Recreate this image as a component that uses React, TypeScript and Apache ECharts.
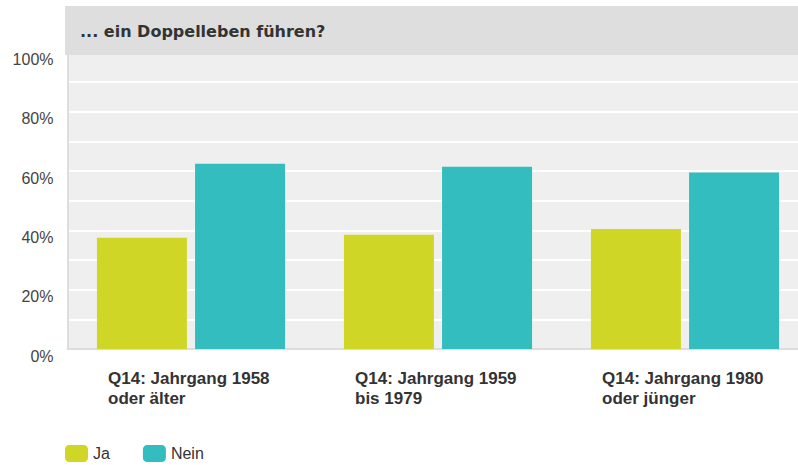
import React, { useEffect, useRef } from "react";
import * as echarts from "echarts";

const categories = [
  "Q14: Jahrgang 1958\noder älter",
  "Q14: Jahrgang 1959\nbis 1979",
  "Q14: Jahrgang 1980\noder jünger",
];
const jaValues = [37.5, 38.5, 40.5];
const neinValues = [62.5, 61.5, 59.5];
const seriesNames = ["Ja", "Nein"];
const titleText = "... ein Doppelleben führen?";

export default function App() {
  const ref = useRef<HTMLDivElement>(null);
  useEffect(() => {
    if (!ref.current) return;
    const chart = echarts.init(ref.current, undefined, { renderer: "svg" });
    const font = "'Liberation Sans', Arial, sans-serif";
    chart.setOption({
      animation: false,
      backgroundColor: "#ffffff",
      textStyle: { fontFamily: font },
      grid: {
        left: 67.5,
        width: 741,
        top: 52.5,
        bottom: 116,
        show: true,
        backgroundColor: "#efefef",
        borderWidth: 0,
        containLabel: false,
        outerBoundsMode: "none",
      },
      legend: {
        left: 60,
        top: 440,
        itemWidth: 23,
        itemHeight: 17,
        itemGap: 33,
        icon: "roundRect",
        textStyle: { fontSize: 16, color: "#333", fontFamily: font },
        data: seriesNames,
      },
      xAxis: {
        type: "category",
        data: categories,
        axisLine: { show: true, lineStyle: { color: "#dddddd", width: 2 } },
        axisTick: { show: false },
        splitLine: { show: false },
        axisLabel: {
          margin: 19,
          interval: 0,
          formatter: (v: string) =>
            v
              .split("\n")
              .map((l) => "{a|" + l + "}")
              .join("\n"),
          rich: {
            a: {
              width: 166,
              align: "left",
              fontSize: 17,
              fontWeight: "bold",
              lineHeight: 20,
              color: "#333",
              fontFamily: font,
            },
          },
        },
      },
      yAxis: {
        type: "value",
        min: 0,
        max: 100,
        interval: 10,
        axisLine: { show: true, lineStyle: { color: "#dddddd", width: 2 } },
        axisTick: { show: false },
        splitLine: { show: true, lineStyle: { color: "#ffffff", width: 2 } },
        axisLabel: {
          interval: 1,
          showMinLabel: true,
          showMaxLabel: true,
          margin: 14,
          fontSize: 16,
          lineHeight: 14,
          verticalAlign: "top",
          color: "#444",
          fontFamily: font,
          formatter: (v: number) => (v % 20 === 0 ? v + "%" : ""),
        },
      },
      series: [
        {
          name: seriesNames[0],
          type: "bar",
          data: jaValues,
          barWidth: 90,
          barGap: "9%",
          itemStyle: { color: "#cfd626" },
        },
        {
          name: seriesNames[1],
          type: "bar",
          data: neinValues,
          barWidth: 90,
          barGap: "9%",
          itemStyle: { color: "#33bdbf" },
        },
      ],
      graphic: [
        {
          type: "group",
          z: 100,
          children: [
            {
              type: "rect",
              shape: { x: 65, y: 6, width: 733, height: 49 },
              style: { fill: "#dedede" },
              z: 100,
            },
            {
              type: "text",
              x: 80,
              y: 31,
              z: 101,
              style: {
                text: titleText,
                fill: "#333",
                font: "bold 16px 'DejaVu Sans', sans-serif",
                verticalAlign: "middle",
                align: "left",
              },
            },
          ],
        },
      ],
    });
    return () => chart.dispose();
  }, []);
  return (
    <div
      ref={ref}
      style={{ position: "absolute", left: 0, top: 0, width: 798, height: 465 }}
    />
  );
}
